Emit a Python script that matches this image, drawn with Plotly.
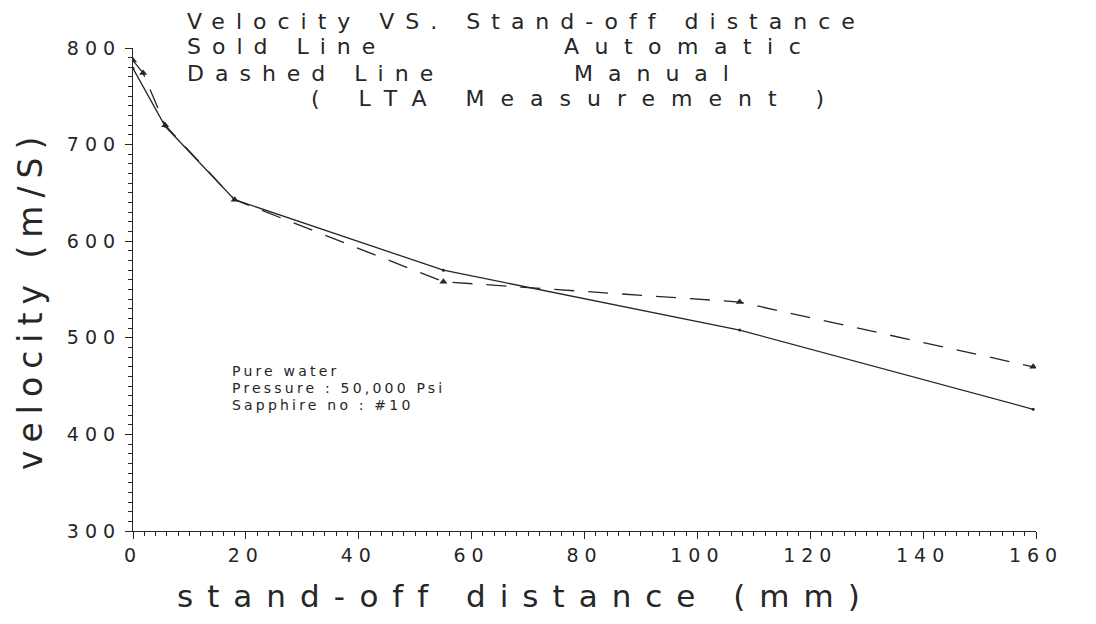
import plotly.graph_objects as go

dist_auto = [0, 5.7, 18, 55, 107.5, 159.5]
vel_auto = [779, 719, 643, 570, 508, 426]

dist_manual = [0, 1.8, 5.7, 18, 55, 107.5, 159.5]
vel_manual = [787, 774, 720, 643, 558, 537, 470]

title_lines = ["Velocity VS. Stand-off distance", "Sold Line", "Dashed Line", "( LTA Measurement )"]
legend_words = ["Automatic", "Manual"]
note_lines = ["Pure water", "Pressure : 50,000 Psi", "Sapphire no : #10"]
x_ticks = list(range(0, 161, 20))
y_ticks = list(range(300, 801, 100))

W, H = 1096, 624
OFF = 8  # page body margin
L, R, T, B = 133 - OFF, 68, 48 - OFF, 101
INK = "#262626"
FONT = "DejaVu Sans"


def px(x, y):
    # page pixel -> paper fraction
    x, y = x - OFF, y - OFF
    return (x - L) / (W - L - R), (H - B - y) / (H - T - B)


def spaced(s, sp):
    return '<span style="letter-spacing:%spx">%s</span>' % (sp, s)


fig = go.Figure()
fig.add_trace(go.Scatter(x=dist_auto, y=vel_auto, mode='lines+markers', name='Automatic',
                         line=dict(color=INK, width=1.3),
                         marker=dict(symbol='circle', size=3, color=INK)))
fig.add_trace(go.Scatter(x=dist_manual, y=vel_manual, mode='lines+markers', name='Manual',
                         line=dict(color=INK, width=1.3, dash='20px,14px'),
                         marker=dict(symbol='triangle-up', size=7, color=INK)))
# empty trace so the minor-tick overlay axes get drawn
fig.add_trace(go.Scatter(x=[], y=[], xaxis='x2', yaxis='y2', hoverinfo='skip'))

annos = []
def text(s, x, y, size, sp, angle=0, anchor='left'):
    fx, fy = px(x, y)
    annos.append(dict(text=spaced(s, sp), x=fx, y=fy, xref='paper', yref='paper',
                      xanchor=anchor, yanchor='middle', showarrow=False, textangle=angle,
                      borderpad=0, font=dict(family=FONT, size=size, color=INK)))

text(title_lines[0], 186, 21, 22, 11)
text(title_lines[1], 186, 47, 22, 11)
text(legend_words[0], 563, 47, 22, 15.5)
text(title_lines[2], 186, 73, 22, 11)
text(legend_words[1], 573, 73, 22, 15)
text(title_lines[3], 310, 99, 22, 16)
for i, s in enumerate(note_lines):
    text(s, 231, 371 + i * 17, 14, 3.2)
text('stand-off distance (mm)', 525, 596, 31, 14, anchor='center')
text('velocity (m/S)', 30, 300, 33, 8, angle=-90, anchor='center')

axis_common = dict(showgrid=False, zeroline=False, showline=True, linecolor=INK, linewidth=1.2,
                   ticks='outside', ticklen=7, tickcolor=INK, tickwidth=1.2,
                   tickfont=dict(size=19, color=INK))
minor_common = dict(showgrid=False, zeroline=False, showline=False, showticklabels=False,
                    ticks='outside', ticklen=4, tickcolor=INK, tickwidth=1)

fig.update_layout(
    width=W, height=H,
    margin=dict(l=L, r=R, t=T, b=B),
    plot_bgcolor='white', paper_bgcolor='white',
    showlegend=False,
    font=dict(family=FONT, color=INK),
    annotations=annos,
    xaxis=dict(range=[0, 160], tickvals=x_ticks,
               ticktext=[spaced(str(v), 6) for v in x_ticks], **axis_common),
    yaxis=dict(range=[300, 800], tickvals=y_ticks,
               ticktext=[spaced(str(v), 6) for v in y_ticks], **axis_common),
    xaxis2=dict(range=[0, 160], overlaying='x', anchor='y', tickmode='linear', tick0=0, dtick=2,
                **minor_common),
    yaxis2=dict(range=[300, 800], overlaying='y', anchor='x', tickmode='linear', tick0=300, dtick=10,
                **minor_common),
)

fig.write_html("out.html")
